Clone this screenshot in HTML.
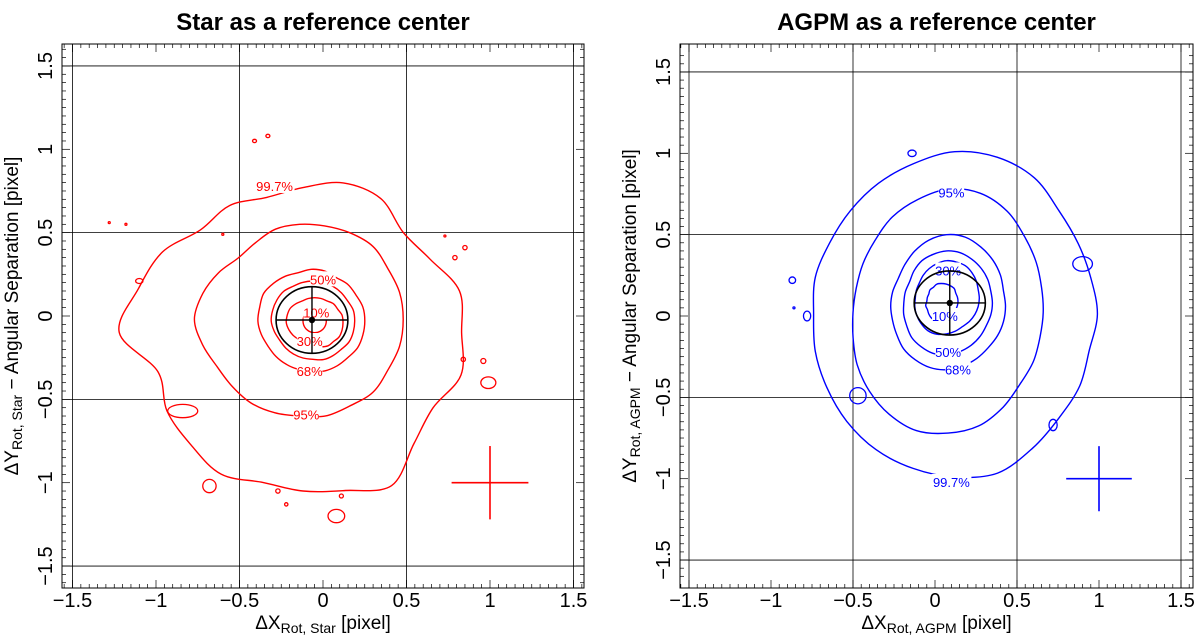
<!DOCTYPE html>
<html><head><meta charset="utf-8"><style>
html,body{margin:0;padding:0;background:#fff;}
svg{display:block;font-family:"Liberation Sans",Arial,sans-serif;}
</style></head><body>
<svg id="root" width="1200" height="636" viewBox="0 0 1200 636"></svg>
<script>
// ---- data ----
const gridX = [-1.5,-0.5,0.5,1.5];
const gridY = [-1.5,-0.5,0.5,1.5];
const tickVals = [-1.5,-1,-0.5,0,0.5,1,1.5];
const tickLabels = ["\u22121.5","\u22121","\u22120.5","0","0.5","1","1.5"];
const starLevels = ["99.7%","95%","68%","50%","30%","10%"];
const starCenters = [[-0.12,-0.1],[-0.14,-0.02],[-0.07,-0.03],[-0.06,-0.03],[-0.05,-0.04],[-0.05,-0.03]];
const starR997 = [0.95,0.97,0.88,0.85,0.93,0.93,0.87,0.84,0.88,0.87,0.97,1.02,1.1,0.9,0.94,0.95,0.98,0.93,0.95,0.98,1.06,0.94,0.9,0.98];
const starR95 = [0.62,0.62,0.61,0.62,0.6,0.58,0.57,0.56,0.53,0.52,0.56,0.6,0.63,0.6,0.57,0.57,0.58,0.58,0.58,0.6,0.6,0.62,0.61,0.62];
const starR68 = [0.32,0.32,0.31,0.31,0.3,0.31,0.31,0.3,0.31,0.32,0.33,0.32,0.32,0.31,0.3,0.3,0.3,0.3,0.3,0.31,0.31,0.31,0.32,0.32];
const starR50 = [0.25,0.25,0.24,0.24,0.24,0.24,0.24,0.24,0.24,0.25,0.25,0.25,0.25,0.24,0.23,0.23,0.23,0.23,0.23,0.24,0.24,0.24,0.25,0.25];
const starR30 = [0.17,0.17,0.16,0.16,0.15,0.15,0.15,0.15,0.15,0.16,0.17,0.17,0.17,0.16,0.15,0.14,0.14,0.14,0.14,0.15,0.16,0.16,0.17,0.17];
const starR10 = [0.07,0.07,0.07,0.06,0.06,0.06,0.06,0.06,0.06,0.07,0.07,0.07,0.07,0.07,0.07,0.07,0.07,0.07,0.07,0.07,0.07,0.07,0.07,0.07];
const starBlobs = [[-0.41,1.05,0.012,0.01],[-0.33,1.08,0.012,0.01],[-0.22,0.79,0.008,0.008],[-1.28,0.56,0.005,0.005],[-1.18,0.55,0.005,0.005],[-0.6,0.49,0.006,0.006],[-1.1,0.21,0.022,0.015],[0.73,0.48,0.005,0.005],[0.79,0.35,0.013,0.013],[0.85,0.41,0.013,0.013],[0.84,-0.26,0.013,0.013],[0.96,-0.27,0.015,0.015],[0.99,-0.4,0.045,0.035],[-0.68,-1.02,0.04,0.04],[-0.27,-1.05,0.013,0.013],[-0.22,-1.13,0.01,0.01],[0.11,-1.08,0.012,0.012],[0.08,-1.2,0.05,0.04],[-0.84,-0.57,0.09,0.04]];
const starEll = [-0.066,-0.024,0.215,0.2];
const agpmLevels = ["99.7%","95%","68%","50%","30%","10%"];
const agpmCenters = [[0.12,0.01],[0.08,0.02],[0.07,0.06],[0.07,0.08],[0.07,0.11],[0.04,0.09]];
const agpmR997 = [0.87,0.86,0.87,0.9,0.97,1.0,1.0,0.96,0.93,0.9,0.88,0.88,0.86,0.88,0.9,0.93,0.96,0.98,1.0,1.01,0.95,0.9,0.88,0.85];
const agpmR95 = [0.58,0.59,0.62,0.66,0.72,0.76,0.76,0.72,0.68,0.63,0.6,0.58,0.58,0.6,0.64,0.68,0.72,0.75,0.74,0.72,0.67,0.62,0.6,0.58];
const agpmR68 = [0.36,0.36,0.38,0.4,0.42,0.44,0.44,0.42,0.39,0.36,0.34,0.34,0.34,0.34,0.35,0.37,0.38,0.39,0.39,0.38,0.37,0.36,0.36,0.36];
const agpmR50 = [0.28,0.28,0.29,0.3,0.31,0.32,0.32,0.31,0.3,0.28,0.26,0.26,0.26,0.27,0.28,0.3,0.31,0.32,0.32,0.31,0.3,0.29,0.28,0.28];
const agpmR30 = [0.2,0.2,0.21,0.22,0.23,0.23,0.23,0.22,0.21,0.2,0.19,0.19,0.19,0.2,0.21,0.22,0.23,0.23,0.22,0.21,0.2,0.2,0.2,0.2];
const agpmR10 = [0.1,0.1,0.1,0.11,0.11,0.11,0.11,0.11,0.1,0.1,0.09,0.09,0.09,0.1,0.1,0.11,0.12,0.12,0.12,0.11,0.1,0.1,0.1,0.1];
const agpmBlobs = [[-0.14,1.0,0.025,0.02],[-0.87,0.22,0.02,0.02],[-0.78,0.0,0.022,0.03],[0.9,0.32,0.06,0.045],[-0.47,-0.49,0.05,0.05],[0.72,-0.67,0.025,0.035],[-0.86,0.05,0.005,0.005]];
const agpmEll = [0.09,0.08,0.217,0.197];
const starLabelPos = [[0,-0.29,0.78],[1,-0.1,-0.59],[2,-0.08,-0.33],[3,0.0,0.22],[4,-0.08,-0.15],[5,-0.04,0.02]];
const agpmLabelPos = [[0,0.1,-1.02],[1,0.1,0.76],[2,0.14,-0.33],[3,0.08,-0.22],[4,0.08,0.28],[5,0.06,0.0]];

// ---- drawing ----
const NS="http://www.w3.org/2000/svg";
const root=document.getElementById('root');
function el(tag,attrs,parent){const e=document.createElementNS(NS,tag);for(const k in attrs)e.setAttribute(k,attrs[k]);(parent||root).appendChild(e);return e;}

const panels=[
 {title:"Star as a reference center",color:"#ff0000",x0:323,y0:316,sx:167,sy:166.7,L:62,R:584,T:44,B:588,
  centers:starCenters,radii:[starR997,starR95,starR68,starR50,starR30,starR10],levels:starLevels,blobs:starBlobs,ell:starEll,labels:starLabelPos,sub:"Rot, Star",name:"star"},
 {title:"AGPM as a reference center",color:"#0000ff",x0:935,y0:316,sx:164,sy:162.7,L:680,R:1193,T:44,B:588,
  centers:agpmCenters,radii:[agpmR997,agpmR95,agpmR68,agpmR50,agpmR30,agpmR10],levels:agpmLevels,blobs:agpmBlobs,ell:agpmEll,labels:agpmLabelPos,sub:"Rot, AGPM",name:"agpm"}
];

function closedPath(pts){
 const n=pts.length;let d="M"+pts[0][0].toFixed(1)+","+pts[0][1].toFixed(1);
 for(let i=0;i<n;i++){const p0=pts[(i-1+n)%n],p1=pts[i],p2=pts[(i+1)%n],p3=pts[(i+2)%n];
  const c1=[p1[0]+(p2[0]-p0[0])/6,p1[1]+(p2[1]-p0[1])/6],c2=[p2[0]-(p3[0]-p1[0])/6,p2[1]-(p3[1]-p1[1])/6];
  d+="C"+c1[0].toFixed(1)+","+c1[1].toFixed(1)+" "+c2[0].toFixed(1)+","+c2[1].toFixed(1)+" "+p2[0].toFixed(1)+","+p2[1].toFixed(1);}
 return d+"Z";}

panels.forEach(P=>{
 const X=v=>P.x0+v*P.sx, Y=v=>P.y0-v*P.sy;
 const g=el('g',{});
 
 
 const t=el('text',{x:(P.L+P.R)/2,y:30,'text-anchor':'middle','font-size':24,'font-weight':'bold'},g);
 t.textContent=P.title;
 
 
 gridX.forEach(v=>{const l=el('line',{x1:X(v),x2:X(v),y1:P.T,y2:P.B,stroke:'#000','stroke-width':0.8},g);
  
  });
 gridY.forEach(v=>{const l=el('line',{x1:P.L,x2:P.R,y1:Y(v),y2:Y(v),stroke:'#000','stroke-width':0.8},g);
  
  });
 for(let k=-32;k<=32;k++){const v=k*0.05;const major=(k%10===0);const len=major?8:4;
  const xv=X(v);if(xv>P.L&&xv<P.R){el('line',{x1:xv,x2:xv,y1:P.B,y2:P.B-len,stroke:'#000','stroke-width':0.7},g);el('line',{x1:xv,x2:xv,y1:P.T,y2:P.T+len,stroke:'#000','stroke-width':0.7},g);}
  const yv=Y(v);if(yv>P.T&&yv<P.B){el('line',{x1:P.L,x2:P.L+len,y1:yv,y2:yv,stroke:'#000','stroke-width':0.7},g);el('line',{x1:P.R,x2:P.R-len,y1:yv,y2:yv,stroke:'#000','stroke-width':0.7},g);}
 }
 tickVals.forEach((v,i)=>{
  const tx=el('text',{x:X(v),y:607,'text-anchor':'middle','font-size':20},g);tx.textContent=tickLabels[i];
  
  
  const lx=P.L-10, ly=Y(v);
  const ty=el('text',{x:lx,y:ly,'text-anchor':'middle','font-size':20,transform:`rotate(-90 ${lx} ${ly})`},g);ty.textContent=tickLabels[i];
  
  
 });
 const xt=el('text',{x:(P.L+P.R)/2,y:629,'text-anchor':'middle','font-size':19},g);
 xt.innerHTML='\u0394X<tspan font-size="14" dy="4">'+P.sub+'</tspan><tspan dy="-4"> [pixel]</tspan>';
 
 
 const ax=P.L-44, ay=(P.T+P.B)/2;
 const yt=el('text',{x:ax,y:ay,'text-anchor':'middle','font-size':19,transform:`rotate(-90 ${ax} ${ay})`},g);
 yt.innerHTML='\u0394Y<tspan font-size="14" dy="4">'+P.sub+'</tspan><tspan dy="-4"> \u2212 Angular Separation [pixel]</tspan>';
 
 
 const fr=el('rect',{x:P.L,y:P.T,width:P.R-P.L,height:P.B-P.T,fill:'none',stroke:'#000','stroke-width':1},g);
 
 
 P.radii.forEach((rs,i)=>{
  const c=P.centers[i];const n=rs.length;
  const pts=rs.map((r,j)=>{const a=j/n*2*Math.PI;return [X(c[0]+r*Math.cos(a)),Y(c[1]+r*Math.sin(a))];});
  const p=el('path',{d:closedPath(pts),fill:'none',stroke:P.color,'stroke-width':1.4},g);
  
  
 });
 P.blobs.forEach(b=>{
  const e=el('ellipse',{cx:X(b[0]),cy:Y(b[1]),rx:Math.max(1,b[2]*P.sx),ry:Math.max(1,b[3]*P.sy),fill:'none',stroke:P.color,'stroke-width':1.3},g);
  
  
 });
 P.labels.forEach(lb=>{
  const txt=P.levels[lb[0]];const w=txt.length*7.2+4;
  const r=el('rect',{x:X(lb[1])-w/2,y:Y(lb[2])-8,width:w,height:15,fill:'#fff'},g);
  
  
  const t2=el('text',{x:X(lb[1]),y:Y(lb[2])+5,'text-anchor':'middle','font-size':13,fill:P.color},g);
  t2.textContent=txt;
  
  
 });
 const E=P.ell;
 const ee=el('ellipse',{cx:X(E[0]),cy:Y(E[1]),rx:E[2]*P.sx,ry:E[3]*P.sy,fill:'none',stroke:'#000','stroke-width':1.6},g);
 
 
 el('line',{x1:X(E[0]-E[2]),x2:X(E[0]+E[2]),y1:Y(E[1]),y2:Y(E[1]),stroke:'#000','stroke-width':1.4},g);
 el('line',{x1:X(E[0]),x2:X(E[0]),y1:Y(E[1]-E[3]),y2:Y(E[1]+E[3]),stroke:'#000','stroke-width':1.4},g);
 const dot=el('circle',{cx:X(E[0]),cy:Y(E[1]),r:3.2,fill:'#000'},g);
 
 
 const cw=P.name==='star'?0.23:0.2, ch=P.name==='star'?0.22:0.2;
 const c1=el('line',{x1:X(1-cw),x2:X(1+cw),y1:Y(-1),y2:Y(-1),stroke:P.color,'stroke-width':1.6},g);
 
 
 const c2=el('line',{x1:X(1),x2:X(1),y1:Y(-1-ch),y2:Y(-1+ch),stroke:P.color,'stroke-width':1.6},g);
 
 
});
</script>
</body></html>
